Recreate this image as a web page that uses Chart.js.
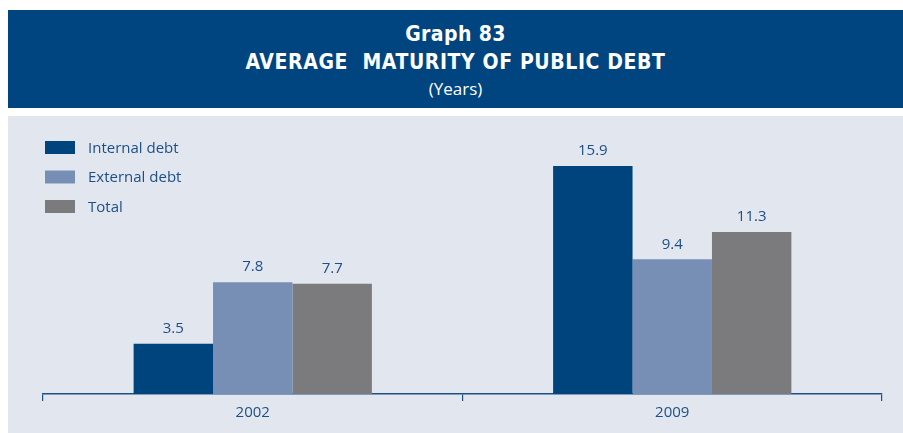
<!DOCTYPE html>
<html>
<head>
<meta charset="utf-8">
<script src="https://cdn.jsdelivr.net/npm/chart.js@4/dist/chart.umd.min.js"></script>
<style>
  html, body { margin: 0; padding: 0; background: #ffffff; }
  body { width: 903px; height: 433px; position: relative; overflow: hidden; }
  #header {
    position: absolute; left: 8px; top: 10px; width: 895px; height: 98px;
    background: #00457f; color: #ffffff; text-align: center;
    font-family: "DejaVu Sans Condensed", "DejaVu Sans", sans-serif;
  }
  #header .l1 { position: absolute; left: 0; right: 0; top: 12px; font-size: 21px; font-weight: bold; letter-spacing: 0.4px; }
  #header .l2 { position: absolute; left: 0; right: 0; top: 40px; font-size: 21px; font-weight: bold; letter-spacing: 0.6px; }
  #header .l3 { position: absolute; left: 0; right: 0; top: 67px; font-size: 17px; font-family: "Open Sans", sans-serif; }
  #panel { position: absolute; left: 8px; top: 116px; width: 895px; height: 317px; background: #e2e6ef; }
  #panel canvas { position: absolute; left: 0; top: 0; }
</style>
</head>
<body>
<div id="header">
  <div class="l1">Graph 83</div>
  <div class="l2">AVERAGE&nbsp; MATURITY OF PUBLIC DEBT</div>
  <div class="l3">(Years)</div>
</div>
<div id="panel"><canvas id="c" width="895" height="317"></canvas></div>
<script>
// Years on the category axis
const years = ['2002', '2009'];
// Average maturity in years for each debt type
const internalDebt = [3.5, 15.9];
const externalDebt = [7.8, 9.4];
const totalDebt = [7.7, 11.3];
const seriesNames = ['Internal debt', 'External debt', 'Total'];

const textBlue = '#1d4f86';
const labelFont = '"Open Sans", sans-serif';

// Vertical legend in the upper-left corner
const legendBox = {
  id: 'legendBox',
  afterDraw(chart) {
    const ctx = chart.ctx;
    ctx.save();
    ctx.font = '15px ' + labelFont;
    ctx.textBaseline = 'middle';
    chart.data.datasets.forEach((ds, i) => {
      const y = 31.5 + i * 29.5;
      ctx.fillStyle = ds.backgroundColor;
      ctx.fillRect(37, y - 6.5, 30, 13);
      ctx.fillStyle = textBlue;
      ctx.fillText(ds.label, 80, y + 1);
    });
    ctx.restore();
  }
};

// Value labels above each bar
const valueLabels = {
  id: 'valueLabels',
  afterDatasetsDraw(chart) {
    const ctx = chart.ctx;
    ctx.save();
    ctx.font = '15px ' + labelFont;
    ctx.fillStyle = textBlue;
    ctx.textAlign = 'center';
    ctx.textBaseline = 'middle';
    chart.data.datasets.forEach((ds, i) => {
      chart.getDatasetMeta(i).data.forEach((bar, j) => {
        ctx.fillText(ds.data[j].toFixed(1), bar.x, bar.y - 15);
      });
    });
    ctx.restore();
  }
};

new Chart(document.getElementById('c'), {
  type: 'bar',
  data: {
    labels: years,
    datasets: [
      { label: seriesNames[0], data: internalDebt, backgroundColor: '#00447e' },
      { label: seriesNames[1], data: externalDebt, backgroundColor: '#778fb4' },
      { label: seriesNames[2], data: totalDebt, backgroundColor: '#7b7b7d' }
    ]
  },
  options: {
    responsive: false,
    animation: false,
    devicePixelRatio: 1,
    layout: { padding: { left: 35, right: 21, top: 20, bottom: 8 } },
    datasets: { bar: { categoryPercentage: 0.568, barPercentage: 1.0 } },
    plugins: { legend: { display: false }, title: { display: false }, tooltip: { enabled: false } },
    scales: {
      x: {
        grid: { offset: true, drawOnChartArea: false, drawTicks: true, tickLength: 7, color: textBlue, lineWidth: 1.2 },
        border: { display: true, color: textBlue, width: 1.5 },
        ticks: { color: textBlue, font: { family: labelFont, size: 15 }, padding: 3 }
      },
      y: {
        display: false,
        min: 0,
        max: 18
      }
    }
  },
  plugins: [legendBox, valueLabels]
});
</script>
</body>
</html>
